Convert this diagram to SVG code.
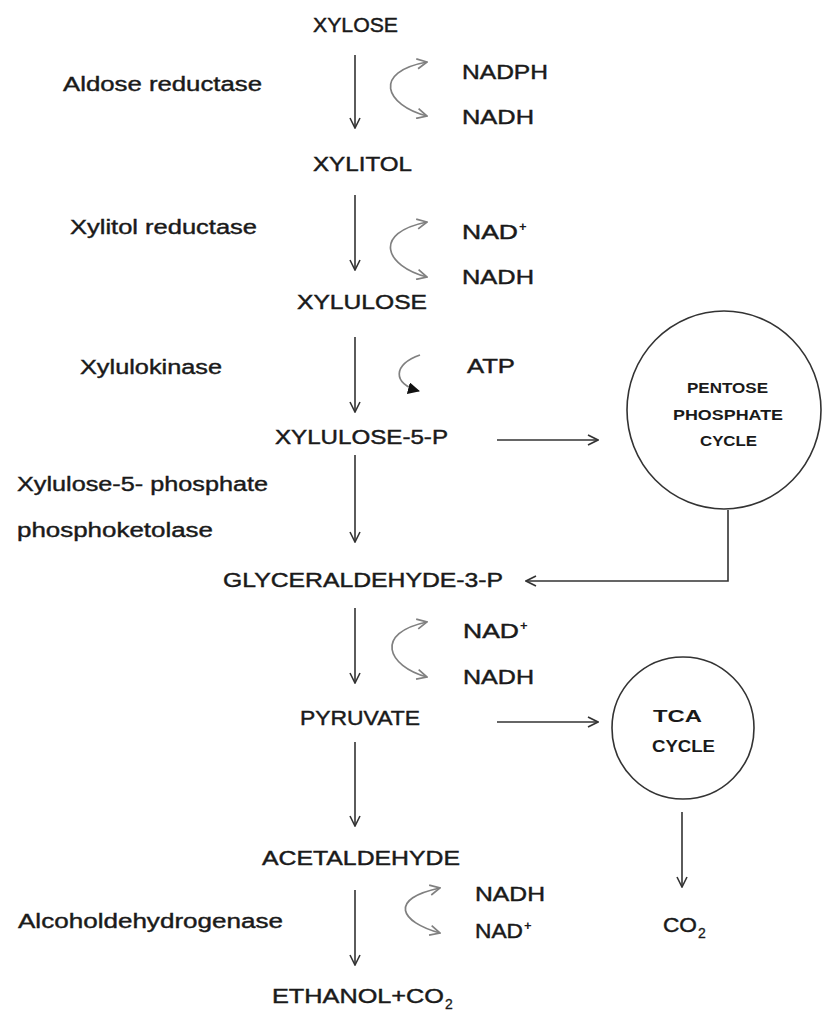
<svg xmlns="http://www.w3.org/2000/svg" width="822" height="1014" viewBox="0 0 822 1014">
<style>
.m{font-family:"Liberation Sans",Arial,sans-serif;font-size:21px;fill:#1a1a1a;stroke:#1a1a1a;stroke-width:0.45}
.e{font-family:"Liberation Sans",Arial,sans-serif;font-size:20px;fill:#1a1a1a;stroke:#1a1a1a;stroke-width:0.4}
.b{font-family:"Liberation Sans",Arial,sans-serif;font-weight:bold;fill:#1a1a1a}
.sup{font-family:"Liberation Sans",Arial,sans-serif;font-size:13px;font-weight:bold;fill:#1a1a1a}
.sub{font-family:"Liberation Sans",Arial,sans-serif;font-size:14px;fill:#1a1a1a;stroke:#1a1a1a;stroke-width:0.3}
.ar{fill:none;stroke:#333;stroke-width:1.6}
.cv{fill:none;stroke:#808080;stroke-width:1.7}
.cir{fill:none;stroke:#333;stroke-width:1.6}
</style>
<defs>
<marker id="open" viewBox="0 0 12 12" refX="11" refY="6" markerWidth="12" markerHeight="12" markerUnits="userSpaceOnUse" orient="auto">
<path d="M1,1 L11,6 L1,11" fill="none" stroke="#333" stroke-width="1.6"/>
</marker>
<marker id="openg" viewBox="0 0 12 12" refX="11" refY="6" markerWidth="12" markerHeight="12" markerUnits="userSpaceOnUse" orient="auto-start-reverse">
<path d="M1,1 L11,6 L1,11" fill="none" stroke="#808080" stroke-width="1.7"/>
</marker>
<marker id="fill" viewBox="0 0 12 12" refX="11" refY="6" markerWidth="12" markerHeight="12" markerUnits="userSpaceOnUse" orient="auto">
<path d="M0,0 L12,6 L0,12 Z" fill="#111"/>
</marker>
</defs>

<g id="connectors">
<line class="ar" x1="355" y1="55" x2="355" y2="128" marker-end="url(#open)"/>
<line class="ar" x1="355" y1="195" x2="355" y2="270" marker-end="url(#open)"/>
<line class="ar" x1="355" y1="337" x2="355" y2="412" marker-end="url(#open)"/>
<line class="ar" x1="355" y1="455" x2="355" y2="542" marker-end="url(#open)"/>
<line class="ar" x1="355" y1="608" x2="355" y2="683" marker-end="url(#open)"/>
<line class="ar" x1="355" y1="742" x2="355" y2="826" marker-end="url(#open)"/>
<line class="ar" x1="355" y1="890" x2="355" y2="965" marker-end="url(#open)"/>
<line class="ar" x1="497" y1="440" x2="598" y2="440" marker-end="url(#open)"/>
<line class="ar" x1="497" y1="722" x2="598" y2="722" marker-end="url(#open)"/>
<polyline class="ar" points="728,510 728,581 526,581" marker-end="url(#open)"/>
<line class="ar" x1="682" y1="812" x2="682" y2="887" marker-end="url(#open)"/>
<path class="cv" d="M427,116 C385,105 372,72 427,62" marker-start="url(#openg)" marker-end="url(#openg)"/>
<path class="cv" d="M427,277 C385,266 372,233 427,222" marker-start="url(#openg)" marker-end="url(#openg)"/>
<path class="cv" d="M420,355 C393,364 392,384 419,391" marker-end="url(#fill)"/>
<path class="cv" d="M427,677 C387,666 374,633 427,622" marker-start="url(#openg)" marker-end="url(#openg)"/>
<path class="cv" d="M440,933 C400,922 388,899 440,888" marker-start="url(#openg)" marker-end="url(#openg)"/>
</g>

<g id="xylose"><text class="m" x="313" y="32" textLength="85" lengthAdjust="spacingAndGlyphs">XYLOSE</text></g>
<g id="xylitol"><text class="m" x="313" y="171" textLength="99" lengthAdjust="spacingAndGlyphs">XYLITOL</text></g>
<g id="xylulose"><text class="m" x="297" y="309" textLength="130" lengthAdjust="spacingAndGlyphs">XYLULOSE</text></g>
<g id="xylulose5p"><text class="m" x="275" y="444" textLength="173" lengthAdjust="spacingAndGlyphs">XYLULOSE-5-P</text></g>
<g id="g3p"><text class="m" x="223" y="587" textLength="280" lengthAdjust="spacingAndGlyphs">GLYCERALDEHYDE-3-P</text></g>
<g id="pyruvate"><text class="m" x="300" y="725" textLength="120" lengthAdjust="spacingAndGlyphs">PYRUVATE</text></g>
<g id="acetaldehyde"><text class="m" x="262" y="865" textLength="198" lengthAdjust="spacingAndGlyphs">ACETALDEHYDE</text></g>
<g id="ethanol"><text class="m" x="272" y="1003" textLength="172" lengthAdjust="spacingAndGlyphs">ETHANOL+CO</text><text class="sub" x="445" y="1009">2</text></g>

<g id="enz1"><text class="e" x="63" y="91" textLength="199" lengthAdjust="spacingAndGlyphs">Aldose reductase</text></g>
<g id="enz2"><text class="e" x="70" y="234" textLength="187" lengthAdjust="spacingAndGlyphs">Xylitol reductase</text></g>
<g id="enz3"><text class="e" x="80" y="374" textLength="142" lengthAdjust="spacingAndGlyphs">Xylulokinase</text></g>
<g id="enz4"><text class="e" x="17" y="491" textLength="251" lengthAdjust="spacingAndGlyphs">Xylulose-5- phosphate</text><text class="e" x="17" y="537" textLength="196" lengthAdjust="spacingAndGlyphs">phosphoketolase</text></g>
<g id="enz5"><text class="e" x="18" y="928" textLength="265" lengthAdjust="spacingAndGlyphs">Alcoholdehydrogenase</text></g>

<g id="cof1"><text class="m" x="462" y="79" textLength="86" lengthAdjust="spacingAndGlyphs">NADPH</text><text class="m" x="462" y="124" textLength="72" lengthAdjust="spacingAndGlyphs">NADH</text></g>
<g id="cof2"><text class="m" x="462" y="239" textLength="56" lengthAdjust="spacingAndGlyphs">NAD</text><text class="sup" x="519" y="231">+</text><text class="m" x="462" y="284" textLength="72" lengthAdjust="spacingAndGlyphs">NADH</text></g>
<g id="cof3"><text class="m" x="467" y="373" textLength="48" lengthAdjust="spacingAndGlyphs">ATP</text></g>
<g id="cof4"><text class="m" x="463" y="638" textLength="56" lengthAdjust="spacingAndGlyphs">NAD</text><text class="sup" x="520" y="630">+</text><text class="m" x="463" y="684" textLength="71" lengthAdjust="spacingAndGlyphs">NADH</text></g>
<g id="cof5"><text class="m" x="475" y="901" textLength="70" lengthAdjust="spacingAndGlyphs">NADH</text><text class="m" x="475" y="938" textLength="48" lengthAdjust="spacingAndGlyphs">NAD</text><text class="sup" x="524" y="930">+</text></g>

<g id="ppc"><ellipse class="cir" cx="724" cy="410" rx="97" ry="99"/>
<text class="b" font-size="15" x="687" y="393" textLength="81" lengthAdjust="spacingAndGlyphs">PENTOSE</text>
<text class="b" font-size="15" x="673" y="420" textLength="110" lengthAdjust="spacingAndGlyphs">PHOSPHATE</text>
<text class="b" font-size="15" x="700" y="446" textLength="57" lengthAdjust="spacingAndGlyphs">CYCLE</text></g>
<g id="tca"><circle class="cir" cx="683" cy="728" r="71"/>
<text class="b" font-size="17" x="653" y="722" textLength="49" lengthAdjust="spacingAndGlyphs">TCA</text>
<text class="b" font-size="17" x="652" y="752" textLength="63" lengthAdjust="spacingAndGlyphs">CYCLE</text></g>
<g id="co2"><text class="m" x="663" y="932" textLength="34" lengthAdjust="spacingAndGlyphs">CO</text><text class="sub" x="698" y="938">2</text></g>
</svg>
